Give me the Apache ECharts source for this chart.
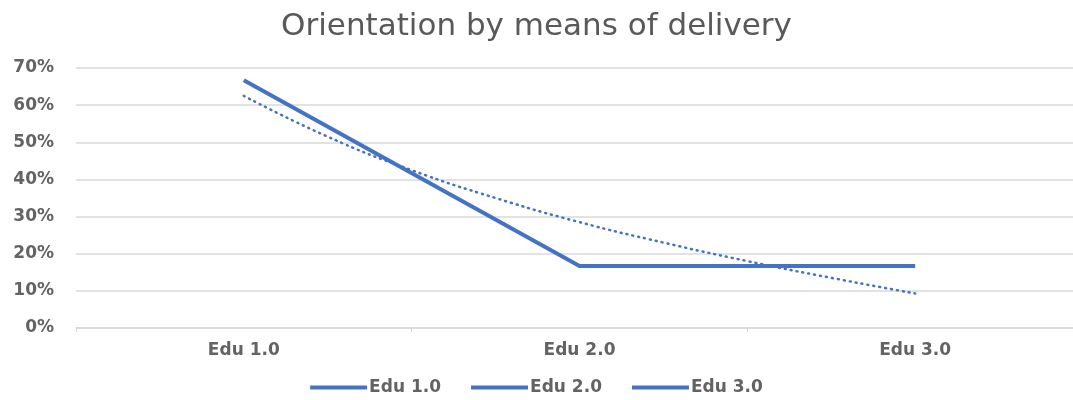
<!DOCTYPE html>
<html>
<head>
<meta charset="utf-8">
<script src="https://cdn.jsdelivr.net/npm/echarts@6/dist/echarts.min.js"></script>
<style>html,body{margin:0;padding:0;background:#fff}#c{width:1073px;height:400px}</style>
</head>
<body>
<div id="c"></div>
<script>
const titleText = 'Orientation by means of delivery';
const categories = ['Edu 1.0', 'Edu 2.0', 'Edu 3.0'];
const legendNames = ['Edu 1.0', 'Edu 2.0', 'Edu 3.0'];
const values = [66.7, 16.7, 16.7];
const trendX = [1, 1.25, 1.5, 1.75, 2, 2.25, 2.5, 2.75, 3];
const trendY = [62.5, 51.5, 42.5, 35, 28.5, 23, 18, 13.5, 9.3];
const yTicks = [0, 10, 20, 30, 40, 50, 60, 70];

const blue = '#4472C4';
const font = 'DejaVu Sans, sans-serif';
const labelStyle = { fontFamily: font, fontSize: 17, fontWeight: 'bold', color: '#636363' };
const chart = echarts.init(document.getElementById('c'));
chart.setOption({
  animation: false,
  title: {
    text: titleText, left: 'center', top: 6,
    textStyle: { fontFamily: font, fontSize: 31, fontWeight: 'normal', color: '#595959' }
  },
  legend: {
    data: legendNames, bottom: -1, left: 'center',
    icon: 'rect', itemWidth: 57, itemHeight: 4, itemGap: 30,
    textStyle: Object.assign({}, labelStyle, { padding: [0, 0, 0, -3] })
  },
  grid: { left: 76, width: 1007, top: 68, bottom: 72, containLabel: false, outerBoundsMode: 'none' },
  xAxis: [{
    type: 'category', data: categories, boundaryGap: true,
    axisLine: { lineStyle: { color: '#d9d9d9', width: 1.5 } },
    axisTick: { show: true, length: 4, lineStyle: { color: '#d9d9d9' } },
    axisLabel: Object.assign({ margin: 14 }, labelStyle)
  }, {
    type: 'value', min: 0.5, max: 3.5, show: false
  }],
  yAxis: {
    type: 'value', min: yTicks[0], max: yTicks[yTicks.length - 1], interval: 10,
    axisLabel: Object.assign({ formatter: '{value}%', margin: 22 }, labelStyle),
    axisLine: { show: false }, axisTick: { show: false },
    splitLine: { lineStyle: { color: '#d9d9d9', width: 1.5 } }
  },
  series: [
    {
      name: legendNames[0], type: 'line', xAxisIndex: 0, data: values,
      symbol: 'none', lineStyle: { color: blue, width: 4 }, itemStyle: { color: blue }, z: 3
    },
    { name: legendNames[1], type: 'line', data: [], itemStyle: { color: blue }, lineStyle: { color: blue } },
    { name: legendNames[2], type: 'line', data: [], itemStyle: { color: blue }, lineStyle: { color: blue } },
    {
      name: 'trend', type: 'line', xAxisIndex: 1, smooth: true,
      data: trendX.map((x, i) => [x, trendY[i]]),
      symbol: 'none', lineStyle: { color: blue, width: 2.5, type: [1, 5], cap: 'round' }, z: 2
    }
  ]
});
</script>
</body>
</html>
